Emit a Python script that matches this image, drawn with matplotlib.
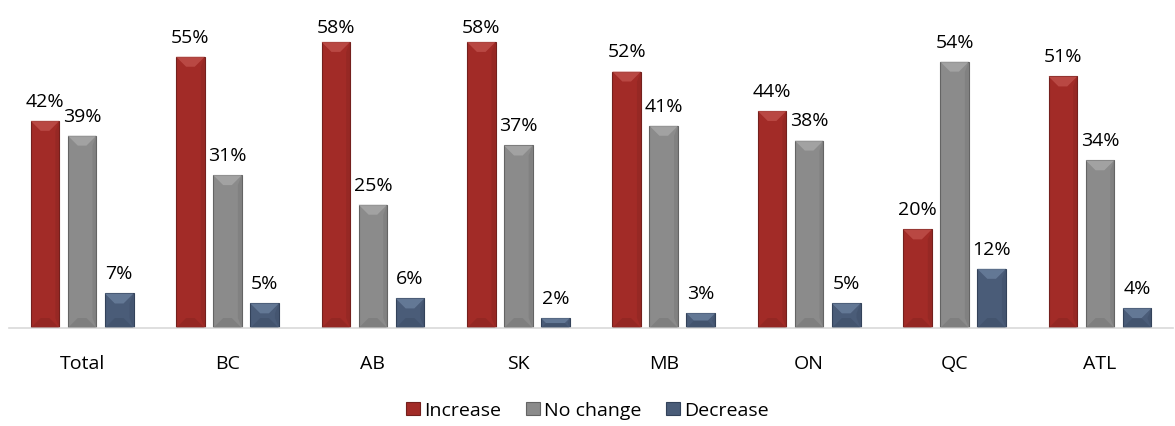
import numpy as np
import matplotlib.pyplot as plt
from matplotlib.patches import Polygon

plt.rcParams['font.family'] = ['Open Sans', 'DejaVu Sans']

regions = ['Total', 'BC', 'AB', 'SK', 'MB', 'ON', 'QC', 'ATL']
increase = [42, 55, 58, 58, 52, 44, 20, 51]
no_change = [39, 31, 25, 37, 41, 38, 54, 34]
decrease = [7, 5, 6, 2, 3, 5, 12, 4]

series = [('Increase', increase, '#A22B27', '#74201D', '#C45550'),
          ('No change', no_change, '#8B8B8B', '#646464', '#ACACAC'),
          ('Decrease', decrease, '#4A5C78', '#33425A', '#6F84A2')]

fig = plt.figure(figsize=(11.75, 4.27), dpi=100)
ax = fig.add_axes([0.008, 0.2295, 0.99, 0.7705])

x = np.arange(len(regions))
w = 0.197
step = 0.255
ax.set_xlim(-0.5, len(regions) - 0.5)
ax.set_ylim(0, 66.7)

handles = []
for i, (name, vals, col, dark, light) in enumerate(series):
    pos = x + (i - 1) * step
    bars = ax.bar(pos, vals, width=w, color=col, edgecolor=dark, linewidth=0.8, label=name, zorder=2)
    handles.append(bars)
    for b, v in zip(bars, vals):
        off = 4 if v > 56 else 8
        ax.annotate(f'{v}%', (b.get_x() + b.get_width() / 2, v), xytext=(0, off),
                    textcoords='offset points', ha='center', va='bottom', fontsize=14)

fig.canvas.draw()
# bevel depth in data units, from pixel size
px_x = ax.transData.transform((1, 0))[0] - ax.transData.transform((0, 0))[0]
px_y = ax.transData.transform((0, 1))[1] - ax.transData.transform((0, 0))[1]
for bars, (name, vals, col, dark, light) in zip(handles, series):
    for b in bars:
        x0, y0 = b.get_x(), 0
        x1, y1 = x0 + b.get_width(), b.get_height()
        dpx = min(10, (y1 - y0) * px_y / 2)
        dx, dy = dpx / px_x, dpx / px_y
        ax.add_patch(Polygon([(x0, y1), (x1, y1), (x1 - dx, y1 - dy), (x0 + dx, y1 - dy)],
                             closed=True, facecolor=light, edgecolor='none', zorder=3, alpha=0.7))
        ax.add_patch(Polygon([(x0, y0), (x1, y0), (x1 - dx, y0 + dy), (x0 + dx, y0 + dy)],
                             closed=True, facecolor=dark, edgecolor='none', zorder=3, alpha=0.3))
        ax.add_patch(Polygon([(x1, y0), (x1 - dx * 0.4, y0 + dy), (x1 - dx * 0.4, y1 - dy), (x1, y1)],
                             closed=True, facecolor=dark, edgecolor='none', zorder=3, alpha=0.25))

ax.set_xticks(x)
ax.set_xticklabels(regions, fontsize=14)
ax.tick_params(axis='x', length=0, pad=19)
ax.set_yticks([])
for s in ['top', 'right', 'left']:
    ax.spines[s].set_visible(False)
ax.spines['bottom'].set_color('#D9D9D9')
ax.spines['bottom'].set_linewidth(1.2)

fig.legend(handles=handles, labels=[s[0] for s in series], loc='lower center',
           bbox_to_anchor=(0.5, -0.025), ncol=3, frameon=False, fontsize=14,
           handlelength=0.7, handleheight=0.7, handletextpad=0.2, columnspacing=1.3)

fig.savefig('out.png', dpi=100, facecolor='white')
